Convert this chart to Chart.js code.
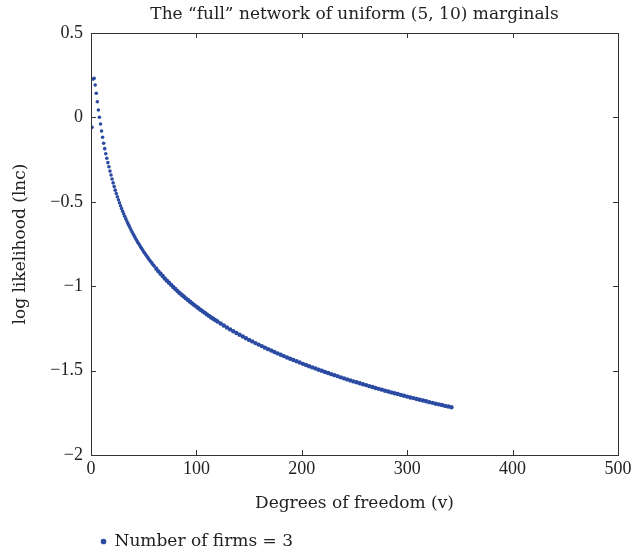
<!DOCTYPE html>
<html>
<head>
<meta charset="utf-8">
<script src="https://cdn.jsdelivr.net/npm/chart.js@4"></script>
<style>
  html, body { margin: 0; padding: 0; background: #fff; }
  #wrap { width: 635px; height: 560px; }
</style>
</head>
<body>
<div id="wrap"><canvas id="chart" width="635" height="560"></canvas></div>
<script>
// degrees of freedom (v) and log likelihood
var dof = [
  1, 2, 3, 4, 5, 6, 7, 8, 9, 10, 11, 12, 13, 14, 15, 16, 17, 18, 19, 20,
  21, 22, 23, 24, 25, 26, 27, 28, 29, 30, 31, 32, 33, 34, 35, 36, 37, 38, 39, 40,
  41, 42, 43, 44, 45, 46, 47, 48, 49, 50, 51, 52, 53, 54, 55, 56, 57, 58, 59, 60,
  62, 64, 66, 68, 70, 72, 74, 76, 78, 80, 82, 84, 86, 88, 90, 92, 94, 96, 98, 100,
  102, 104, 106, 108, 110, 112, 114, 116, 118, 120,
  123, 126, 129, 132, 135, 138, 141, 144, 147, 150, 153, 156, 159, 162, 165, 168, 171, 174, 177, 180,
  183, 186, 189, 192, 195, 198, 201, 204, 207, 210, 213, 216, 219, 222, 225, 228, 231, 234, 237, 240,
  243, 246, 249, 252, 255, 258, 261, 264, 267, 270, 273, 276, 279, 282, 285, 288, 291, 294, 297, 300,
  303, 306, 309, 312, 315, 318, 321, 324, 327, 330, 333, 336, 339, 342
];
var lnc = [
  -0.059, 0.227, 0.232, 0.192, 0.143, 0.093, 0.044, 0.001, -0.039, -0.081,
  -0.118, -0.153, -0.185, -0.215, -0.242, -0.268, -0.292, -0.318, -0.341, -0.365,
  -0.388, -0.410, -0.431, -0.451, -0.470, -0.488, -0.506, -0.523, -0.540, -0.556,
  -0.571, -0.586, -0.600, -0.614, -0.628, -0.641, -0.654, -0.667, -0.679, -0.691,
  -0.702, -0.714, -0.725, -0.736, -0.746, -0.756, -0.767, -0.776, -0.786, -0.796,
  -0.805, -0.814, -0.823, -0.832, -0.840, -0.849, -0.857, -0.865, -0.874, -0.881,
  -0.897, -0.912, -0.926, -0.940, -0.954, -0.967, -0.980, -0.992, -1.005, -1.017,
  -1.028, -1.040, -1.051, -1.061, -1.072, -1.082, -1.092, -1.102, -1.112, -1.121,
  -1.131, -1.140, -1.149, -1.158, -1.167, -1.176, -1.185, -1.193, -1.201, -1.209,
  -1.221, -1.233, -1.245, -1.256, -1.267, -1.277, -1.288, -1.298, -1.308, -1.318,
  -1.327, -1.337, -1.346, -1.355, -1.364, -1.373, -1.381, -1.390, -1.398, -1.406,
  -1.414, -1.422, -1.430, -1.437, -1.445, -1.452, -1.460, -1.467, -1.474, -1.481,
  -1.488, -1.495, -1.501, -1.508, -1.514, -1.521, -1.527, -1.533, -1.540, -1.546,
  -1.552, -1.558, -1.564, -1.569, -1.575, -1.581, -1.586, -1.592, -1.597, -1.603,
  -1.608, -1.613, -1.619, -1.624, -1.629, -1.634, -1.639, -1.644, -1.649, -1.654,
  -1.659, -1.663, -1.668, -1.673, -1.677, -1.682, -1.687, -1.691, -1.696, -1.700,
  -1.704, -1.709, -1.713, -1.717
];
var xTicks = [0, 100, 200, 300, 400, 500];
var yTicks = [0.5, 0, -0.5, -1, -1.5, -2];

var tickFont = "'Liberation Serif', serif";
var textFont = "'DejaVu Serif', 'Liberation Serif', serif";
var dotColor = '#2b4ba2';

var points = [];
for (var i = 0; i < dof.length; i++) {
    points.push({x: dof[i], y: lnc[i]});
}

function minus(v) {
    return String(v).replace('-', '\u2212');
}

// MATLAB style box with inward ticks on all four sides
var boxPlugin = {
    id: 'box',
    afterDraw: function(chart) {
        var ctx = chart.ctx;
        var a = chart.chartArea;
        var xs = chart.scales.x, ys = chart.scales.y;
        var len = 5;
        ctx.save();
        ctx.strokeStyle = '#333';
        ctx.lineWidth = 1;
        ctx.strokeRect(a.left + 0.5, a.top + 0.5, a.right - a.left, a.bottom - a.top);
        ctx.beginPath();
        xs.ticks.forEach(function(t) {
            var px = Math.round(xs.getPixelForValue(t.value)) + 0.5;
            ctx.moveTo(px, a.bottom); ctx.lineTo(px, a.bottom - len);
            ctx.moveTo(px, a.top); ctx.lineTo(px, a.top + len);
        });
        ys.ticks.forEach(function(t) {
            var py = Math.round(ys.getPixelForValue(t.value)) + 0.5;
            ctx.moveTo(a.left, py); ctx.lineTo(a.left + len, py);
            ctx.moveTo(a.right, py); ctx.lineTo(a.right - len, py);
        });
        ctx.stroke();
        ctx.restore();
    }
};

var config = {
    type: 'scatter',
    data: {
        datasets: [{
            label: 'Number of firms = 3',
            data: points,
            backgroundColor: dotColor,
            borderColor: dotColor,
            borderWidth: 0,
            // dots merge into a solid band once the step grows
            pointRadius: function(c) { return c.raw && c.raw.x > 60 ? 2.2 : 1.8; },
            pointHoverRadius: 1.8
        }]
    },
    options: {
        responsive: false,
        animation: false,
        layout: {
            padding: {left: 0, right: 17, top: 0, bottom: 0}
        },
        plugins: {
            title: {
                display: true,
                fullSize: false,
                text: 'The \u201cfull\u201d network of uniform (5, 10) marginals',
                color: '#222',
                font: {family: textFont, size: 17, weight: 'normal'},
                padding: {top: 4, bottom: 8.6}
            },
            legend: {
                display: true,
                position: 'bottom',
                align: 'start',
                fullSize: false,
                labels: {
                    usePointStyle: true,
                    pointStyle: 'circle',
                    boxWidth: 5,
                    boxHeight: 4,
                    color: '#222',
                    font: {family: textFont, size: 17},
                    padding: 10
                }
            },
            tooltip: {enabled: false}
        },
        scales: {
            x: {
                type: 'linear',
                min: 0,
                max: 500,
                afterBuildTicks: function(s) { s.ticks = xTicks.map(function(v) { return {value: v}; }); },
                afterFit: function(s) { s.height = 68; },
                ticks: {
                    color: '#222',
                    font: {family: tickFont, size: 18},
                    padding: 3,
                    maxRotation: 0,
                    callback: function(v) { return minus(v); }
                },
                grid: {display: false, drawTicks: false},
                border: {display: false},
                title: {
                    display: true,
                    text: 'Degrees of freedom (v)',
                    color: '#222',
                    font: {family: textFont, size: 17},
                    padding: {top: 0, bottom: 9}
                }
            },
            y: {
                type: 'linear',
                min: -2,
                max: 0.5,
                afterBuildTicks: function(s) { s.ticks = yTicks.map(function(v) { return {value: v}; }); },
                afterFit: function(s) { s.width = 91; },
                ticks: {
                    color: '#222',
                    font: {family: tickFont, size: 18},
                    padding: 8,
                    callback: function(v) { return minus(v); }
                },
                grid: {display: false, drawTicks: false},
                border: {display: false},
                title: {
                    display: true,
                    text: 'log likelihood (lnc)',
                    color: '#222',
                    font: {family: textFont, size: 17},
                    padding: {top: 10, bottom: 0}
                }
            }
        }
    },
    plugins: [boxPlugin]
};

new Chart(document.getElementById('chart'), config);
</script>
</body>
</html>
